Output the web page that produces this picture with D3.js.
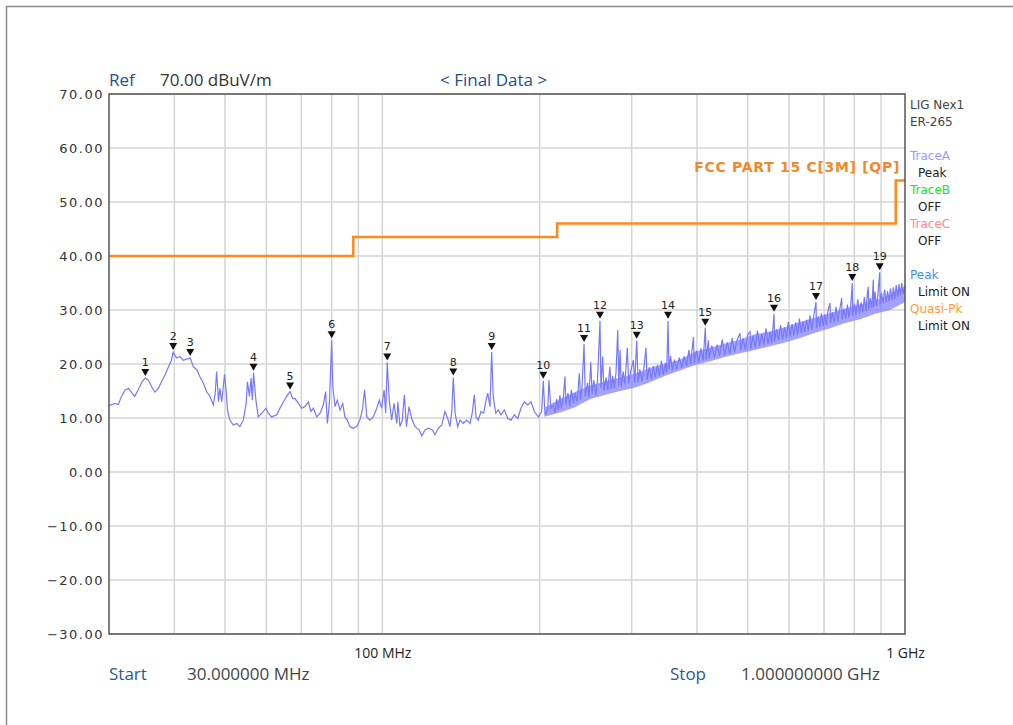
<!DOCTYPE html>
<html>
<head>
<meta charset="utf-8">
<script src="https://cdn.jsdelivr.net/npm/d3@7"></script>
<style>
  body { margin: 0; background: #fff; }
  svg text { font-family: "DejaVu Sans", Verdana, sans-serif; }
  .hdr { font-family: "Open Sans", sans-serif; font-size: 17px; }
  .foot { font-family: "Open Sans", sans-serif; font-size: 17px; }
  .ylab text { font-size: 13px; fill: #333; letter-spacing: 1.5px; }
  .xlab text { font-family: "Open Sans", sans-serif; font-size: 14px; fill: #222; }
  .side { font-size: 12px; }
  .mk { font-size: 11px; fill: #222; }
</style>
</head>
<body>
<div id="chart"></div>
<script>
// spectrum trace, 30 - 212 MHz (MHz / dBuV/m)
var traceLowMHz = [30.0, 30.8, 31.25, 31.7, 32.2, 32.7, 33.2, 33.6, 34.1, 34.7, 35.2, 35.7, 36.2, 36.7, 37.3, 37.8, 38.4, 39.0, 39.5, 39.8,
  40.4, 41.0, 41.6, 42.2, 42.9, 43.5, 44.2, 44.8, 45.5, 46.1, 46.8, 47.5, 47.9, 48.2, 48.6, 48.9, 49.3, 49.9, 50.2, 50.6,
  51.1, 51.9, 52.7, 53.4, 54.2, 54.9, 55.2, 55.7, 56.1, 56.4, 56.7, 57.3, 57.9, 58.8, 59.9, 60.5, 61.4, 62.8, 63.7, 64.7,
  65.6, 66.6, 67.4, 68.1, 69.1, 70.1, 71.1, 72.2, 73.0, 73.8, 74.9, 76.0, 77.1, 77.9, 78.5, 79.2, 80.0, 80.4, 81.2, 82.0,
  83.0, 84.0, 84.8, 85.7, 86.7, 88.0, 89.3, 90.6, 91.7, 92.5, 93.4, 94.7, 96.1, 97.6, 98.7, 99.7, 100.8, 101.5, 102.2, 103.1,
  104.2, 105.3, 106.6, 107.1, 108.1, 109.2, 110.2, 111.2, 112.5, 113.8, 115.5, 117.6, 119.0, 120.7, 122.5, 124.7, 126.1, 128.0, 129.9, 131.8,
  133.4, 134.7, 135.8, 136.7, 137.8, 139.4, 140.8, 142.9, 145.0, 147.2, 148.6, 150.0, 151.1, 152.6, 154.5, 156.3, 157.7, 159.1, 160.7, 161.9,
  163.0, 164.8, 166.7, 168.7, 171.2, 173.8, 176.3, 178.9, 181.6, 184.2, 186.9, 189.8, 192.5, 195.4, 198.8, 201.8, 203.2, 204.8, 207.2, 208.4,
  210.0];
var traceLowDb = [12.3, 12.7, 12.5, 14.0, 15.2, 15.5, 14.6, 14.0, 15.2, 16.7, 17.4, 17.0, 15.8, 14.8, 15.5, 16.7, 18.0, 19.5, 20.7, 22.2,
  21.1, 21.4, 20.7, 20.9, 21.1, 19.5, 18.9, 17.6, 16.4, 14.9, 14.0, 12.4, 14.6, 18.6, 13.0, 15.5, 13.0, 18.1, 15.5, 11.2,
  9.6, 8.7, 9.0, 8.4, 9.6, 12.7, 16.7, 14.0, 17.4, 13.3, 18.4, 13.3, 10.2, 10.9, 11.8, 10.9, 10.2, 10.6, 11.8, 13.0,
  14.0, 14.9, 13.6, 13.6, 12.7, 11.8, 12.1, 13.0, 11.2, 11.8, 10.2, 10.9, 12.4, 14.9, 9.0, 12.7, 24.4, 15.8, 12.1, 13.3,
  11.5, 12.7, 10.2, 9.6, 8.4, 8.1, 8.4, 9.6, 11.8, 15.2, 10.2, 9.6, 10.2, 11.8, 13.3, 11.8, 15.2, 10.9, 20.3, 13.3,
  9.6, 12.7, 9.0, 13.0, 8.4, 9.6, 14.3, 8.4, 12.1, 9.9, 8.4, 7.8, 6.7, 7.8, 8.1, 7.8, 6.9, 8.1, 8.7, 11.2,
  9.9, 8.4, 11.2, 17.5, 10.9, 8.4, 9.6, 9.0, 9.6, 9.0, 10.9, 14.3, 10.2, 9.6, 11.2, 10.9, 13.0, 14.6, 12.1, 22.2,
  14.0, 10.9, 11.5, 10.6, 11.5, 9.9, 9.6, 10.6, 9.9, 11.8, 13.0, 12.4, 13.0, 11.2, 10.2, 11.2, 16.9, 10.6, 11.5, 17.0,
  11.8];

// spectrum trace, 212 MHz - 1 GHz
var traceHighMHz = [212.4, 214, 215.5, 217, 218.7, 220, 222, 223.6, 224.5, 226.5, 228.5, 230, 232, 233.7, 236, 238.2, 239.5, 241, 243.2, 244.5,
  247, 248.5, 250.5, 252, 254, 256, 258, 260.9, 262, 264, 265.5, 268, 270, 272.5, 274, 276, 278, 280, 282.1, 283.5,
  285, 286.5, 289, 291, 294.3, 296, 299, 302.2, 304, 306.7, 308.5, 311, 314, 316.5, 319.5, 321, 324, 327, 330, 333,
  336, 339, 342, 345, 348, 350, 352.1, 353.5, 356, 359, 362, 366, 370, 374, 378, 382, 386, 389, 393.7, 395,
  399, 403, 407, 411, 414.9, 416.5, 420.5, 422, 427, 432, 437, 442, 447, 452, 457, 462, 467, 472, 477, 483.5,
  485, 490, 495, 500, 505.3, 507, 512, 517, 522, 527, 532, 537, 542, 547, 552, 556, 561.6, 563, 568, 573,
  578, 583, 588, 593, 598, 603, 608, 613, 618, 623, 628, 633, 638, 643, 648, 653, 658, 663, 668, 675.7,
  677, 682, 687, 692, 697, 702, 707, 712, 718.7, 720, 726, 732, 738, 744, 750, 756.7, 758, 764, 770, 776,
  781, 787, 792.8, 794, 800, 806, 812, 818, 824, 830, 836, 842, 847, 850.7, 852, 858, 864, 869.7, 871, 876,
  881, 887, 894.5, 896, 902, 908, 914, 920, 926, 932, 938, 944, 950, 956, 962, 968, 974, 980, 986, 992,
  1000];
var traceHighDb = [12.4, 11.0, 13.5, 11.5, 14.2, 11.8, 13.8, 17.7, 12.5, 14.6, 12.2, 15.2, 12.8, 14.6, 13.0, 18.3, 13.4, 15.8, 23.7, 14.0,
  16.5, 13.8, 20.4, 14.5, 17.0, 14.2, 16.8, 28.0, 15.5, 21.4, 15.0, 17.5, 15.2, 19.5, 15.4, 17.8, 15.5, 18.5, 26.3, 16.0,
  22.6, 15.8, 18.6, 16.2, 23.0, 16.4, 18.8, 20.7, 16.5, 24.3, 16.6, 19.0, 16.8, 19.2, 23.0, 17.0, 19.4, 17.2, 19.6, 17.5,
  19.8, 17.8, 20.6, 18.0, 20.2, 18.4, 28.0, 19.0, 21.5, 18.8, 20.8, 19.0, 21.2, 19.3, 21.4, 19.6, 22.6, 20.0, 25.0, 20.2,
  22.5, 20.3, 22.9, 20.6, 26.7, 20.8, 24.4, 21.0, 23.4, 21.2, 23.6, 21.5, 24.5, 21.6, 24.0, 21.9, 24.8, 22.2, 24.4, 25.7,
  22.5, 24.8, 22.6, 25.4, 26.0, 22.8, 25.2, 23.0, 26.2, 23.3, 25.6, 23.5, 26.6, 23.7, 26.0, 23.8, 29.3, 24.2, 26.4, 24.4,
  27.2, 24.6, 26.8, 24.8, 27.8, 25.0, 27.4, 25.2, 27.7, 25.4, 28.4, 25.7, 27.9, 25.9, 28.2, 26.1, 29.0, 26.3, 28.5, 31.5,
  26.6, 28.8, 26.8, 29.4, 27.0, 29.2, 27.2, 29.8, 31.3, 27.5, 29.6, 27.7, 30.6, 27.9, 30.0, 32.2, 28.2, 30.2, 28.4, 31.0,
  28.6, 30.6, 35.0, 28.9, 31.2, 29.1, 32.0, 29.3, 31.4, 29.6, 32.4, 29.8, 33.0, 34.3, 30.1, 32.2, 30.3, 35.6, 30.5, 33.4,
  30.7, 32.6, 37.0, 31.0, 33.2, 31.2, 33.8, 31.4, 33.5, 31.6, 34.0, 31.8, 34.2, 32.1, 34.6, 32.4, 34.8, 32.7, 35.0, 33.0,
  34.5];

// envelope of the dense noise floor above ~200 MHz
var bandMHz = [205, 218.7, 233.7, 250, 267, 285, 304, 325, 347, 371, 397, 424, 452, 483, 516, 552, 589, 630, 673, 719, 768, 820, 877, 936, 1000];
var bandLow = [10.3, 11.0, 12.0, 13.5, 14.3, 15.0, 15.6, 16.6, 17.8, 18.8, 19.8, 20.5, 21.3, 22.0, 22.6, 23.3, 24.0, 24.8, 25.8, 26.6, 27.6, 28.3, 29.3, 30.0, 31.5];
var bandHigh = [12.0, 13.5, 14.8, 16.0, 16.8, 17.5, 18.2, 19.3, 20.0, 20.8, 22.3, 23.0, 23.8, 24.5, 25.5, 26.0, 26.8, 27.8, 28.6, 29.4, 30.3, 31.0, 31.8, 32.8, 34.5];

// FCC part 15 limit (3 m)
var limitMHz = [30, 88, 216, 960, 1000];
var limitDb = [40, 43.5, 46, 54, 54];

// markers
var markerMHz = [35.2, 39.8, 42.9, 56.7, 66.6, 80.0, 102.2, 136.7, 161.9, 203.2, 243.2, 260.9, 306.7, 352.1, 414.9, 561.6, 675.7, 792.8, 894.5];
var markerDb = [17.4, 22.2, 21.1, 18.4, 14.9, 24.4, 20.3, 17.5, 22.2, 16.9, 23.7, 28.0, 24.3, 28.0, 26.7, 29.3, 31.5, 35.0, 37.0];

var gridMHz = [40, 50, 60, 70, 80, 90, 100, 200, 300, 400, 500, 600, 700, 800, 900];
var xTickMHz = [100, 1000];
var xTickLabels = ["100 MHz", "1 GHz"];
var yTicks = [-30, -20, -10, 0, 10, 20, 30, 40, 50, 60, 70];

var sideLines = [
  ["LIG Nex1", "#444", 0], ["ER-265", "#444", 0],
  ["", "", 0],
  ["TraceA", "#9a9aff", 0], ["Peak", "#222", 8],
  ["TraceB", "#22e022", 0], ["OFF", "#222", 8],
  ["TraceC", "#ff8a8a", 0], ["OFF", "#222", 8],
  ["", "", 0],
  ["Peak", "#3d8ff0", 0], ["Limit ON", "#222", 8],
  ["Quasi-Pk", "#ff9a33", 0], ["Limit ON", "#222", 8]
];

var margin = {top: 94, left: 109},
    width = 796,
    height = 540;

var svg = d3.select("#chart").append("svg")
    .attr("width", 1013)
    .attr("height", 725);

// outer frame
svg.append("rect")
    .attr("x", 6.5).attr("y", 6.5)
    .attr("width", 1100).attr("height", 800)
    .attr("fill", "none").attr("stroke", "#8a8a8a").attr("stroke-width", 1.5);

var x = d3.scaleLog().domain([30, 1000]).range([0, width]);
var y = d3.scaleLinear().domain([-30, 70]).range([height, 0]);

var main = svg.append("g")
    .attr("transform", "translate(" + margin.left + "," + margin.top + ")");

// grid
main.selectAll(".hgrid").data(yTicks).enter().append("line")
    .attr("x1", 0).attr("x2", width)
    .attr("y1", function(d) { return y(d); }).attr("y2", function(d) { return y(d); })
    .attr("stroke", "#d4d4d4").attr("stroke-width", 1.5);
main.selectAll(".vgrid").data(gridMHz).enter().append("line")
    .attr("y1", 0).attr("y2", height)
    .attr("x1", function(d) { return x(d); }).attr("x2", function(d) { return x(d); })
    .attr("stroke", "#d4d4d4").attr("stroke-width", 1.5);

// y labels
var yAxis = d3.axisLeft(y).tickValues(yTicks).tickSize(0).tickPadding(5).tickFormat(d3.format(".2f"));
main.append("g").attr("class", "ylab").call(yAxis)
    .call(function(g) { g.select(".domain").remove(); });

// x labels
var xAxis = d3.axisBottom(x).tickValues(xTickMHz).tickSize(0).tickPadding(14)
    .tickFormat(function(d, i) { return xTickLabels[i]; });
main.append("g").attr("class", "xlab")
    .attr("transform", "translate(0," + height + ")")
    .call(xAxis)
    .call(function(g) { g.select(".domain").remove(); });

// noise band
var band = bandMHz.map(function(f, i) { return [f, bandLow[i], bandHigh[i]]; });
main.append("path")
    .datum(band)
    .attr("fill", "#8484ff")
    .attr("fill-opacity", 0.75)
    .attr("d", d3.area()
      .x(function(d) { return x(d[0]); })
      .y0(function(d) { return y(d[1]); })
      .y1(function(d) { return y(d[2]); }));

// trace
var trace = traceLowMHz.map(function(f, i) { return [f, traceLowDb[i]]; })
    .concat(traceHighMHz.map(function(f, i) { return [f, traceHighDb[i]]; }));
main.append("path")
    .datum(trace)
    .attr("fill", "none")
    .attr("stroke", "#7878fa")
    .attr("stroke-width", 1.2)
    .attr("d", d3.line()
      .x(function(d) { return x(d[0]); })
      .y(function(d) { return y(d[1]); }));

// limit line
var limit = limitMHz.map(function(f, i) { return [f, limitDb[i]]; });
main.append("path")
    .datum(limit)
    .attr("fill", "none")
    .attr("stroke", "#ff8a1c")
    .attr("stroke-width", 2.5)
    .attr("d", d3.line().curve(d3.curveStepAfter)
      .x(function(d) { return x(d[0]); })
      .y(function(d) { return y(d[1]); }));

main.append("text")
    .attr("x", width - 5).attr("y", y(54) - 8)
    .attr("text-anchor", "end")
    .attr("fill", "#f08a28")
    .attr("font-weight", "bold")
    .attr("font-size", 14)
    .attr("letter-spacing", 0.7)
    .text("FCC PART 15 C[3M] [QP]");

// markers
var mk = main.selectAll(".mk").data(markerMHz).enter().append("g")
    .attr("transform", function(d, i) { return "translate(" + x(d) + "," + y(markerDb[i]) + ")"; });
mk.append("path")
    .attr("d", "M-4,-9 L4,-9 L0,-2 Z")
    .attr("fill", "#111");
mk.append("text")
    .attr("class", "mk")
    .attr("y", -12)
    .attr("text-anchor", "middle")
    .text(function(d, i) { return i + 1; });

// plot frame
main.append("rect")
    .attr("width", width).attr("height", height)
    .attr("fill", "none").attr("stroke", "#555").attr("stroke-width", 1.5);

// header
svg.append("text").attr("class", "hdr").attr("x", 109).attr("y", 86)
    .attr("fill", "#1f4f8f").text("Ref");
svg.append("text").attr("class", "hdr").attr("x", 160).attr("y", 86)
    .attr("fill", "#333").text("70.00 dBuV/m");
svg.append("text").attr("class", "hdr").attr("x", 440).attr("y", 86)
    .attr("fill", "#1f4f8f").text("< Final Data >");

// footer
svg.append("text").attr("class", "foot").attr("x", 109).attr("y", 680)
    .attr("fill", "#2a5a94").text("Start");
svg.append("text").attr("class", "foot").attr("x", 187).attr("y", 680)
    .attr("fill", "#444").text("30.000000 MHz");
svg.append("text").attr("class", "foot").attr("x", 670).attr("y", 680)
    .attr("fill", "#2a5a94").text("Stop");
svg.append("text").attr("class", "foot").attr("x", 741).attr("y", 680)
    .attr("fill", "#444").text("1.000000000 GHz");

// side legend
svg.selectAll(".side").data(sideLines).enter().append("text")
    .attr("class", "side")
    .attr("x", function(d) { return 910 + d[2]; })
    .attr("y", function(d, i) { return 109 + i * 17; })
    .attr("fill", function(d) { return d[1]; })
    .text(function(d) { return d[0]; });
</script>
</body>
</html>
